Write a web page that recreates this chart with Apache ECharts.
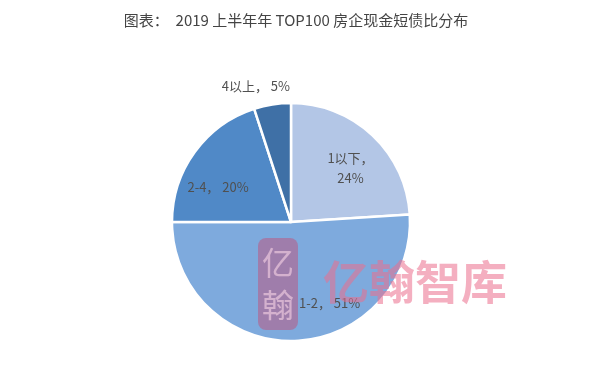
<!DOCTYPE html>
<html>
<head>
<meta charset="utf-8">
<script src="https://cdn.jsdelivr.net/npm/echarts@6/dist/echarts.min.js"></script>
<style>
  * { margin: 0; padding: 0; }
  body { background: #fff; }
</style>
</head>
<body>
<div id="main" style="width: 592px; height: 376px;"></div>
<script type="text/javascript">
  // 数据
  var categories = ['1以下', '1-2', '2-4', '4以上'];
  var shares = [24, 51, 20, 5];
  var sliceColors = ['#b3c6e6', '#7eaadd', '#5089c7', '#3f70a6'];
  var labelOffsets = [[2, 7], [36, -3], [-5, 14], [-22, -53]];
  var labelText = ['1以下，\n24%', '1-2， 51%', '2-4， 20%', '4以上， 5%'];

  var myChart = echarts.init(document.getElementById('main'));

  var pieData = categories.map(function (name, i) {
    return { name: name, value: shares[i], itemStyle: { color: sliceColors[i] } };
  });
  var labelData = categories.map(function (name, i) {
    return {
      name: name,
      value: shares[i],
      label: { offset: labelOffsets[i], formatter: labelText[i] }
    };
  });

  var option = {
    backgroundColor: '#fff',
    animation: false,
    title: {
      text: '图表：  2019 上半年年 TOP100 房企现金短债比分布',
      left: 'center',
      top: 8,
      textStyle: {
        fontFamily: 'Noto Sans CJK SC',
        fontWeight: 'normal',
        fontSize: 15,
        color: '#444'
      }
    },
    series: [
      {
        type: 'pie',
        center: [291, 222],
        radius: [0, 119],
        startAngle: 90,
        clockwise: true,
        silent: true,
        label: { show: false },
        labelLine: { show: false },
        itemStyle: { borderColor: '#fff', borderWidth: 2.5 },
        data: pieData
      },
      {
        // 只用于放标签
        type: 'pie',
        center: [291, 222],
        radius: [43, 119],
        startAngle: 90,
        clockwise: true,
        silent: true,
        itemStyle: { color: 'rgba(0,0,0,0)' },
        labelLine: { show: false },
        label: {
          show: true,
          position: 'inside',
          fontFamily: 'Noto Sans CJK SC',
          fontSize: 13,
          lineHeight: 20,
          color: '#505050'
        },
        data: labelData
      }
    ],
    graphic: [
      {
        type: 'rect',
        shape: { x: 258, y: 238, width: 40, height: 92, r: 8 },
        style: { fill: 'rgba(200,70,110,0.45)' },
        z: 100
      },
      {
        type: 'text',
        x: 278,
        y: 284,
        style: {
          text: '亿\n翰',
          fontFamily: 'Noto Sans CJK SC',
          fontSize: 32,
          lineHeight: 42,
          fill: 'rgba(255,220,235,0.55)',
          align: 'center',
          verticalAlign: 'middle'
        },
        z: 101
      },
      {
        type: 'text',
        x: 415,
        y: 282,
        style: {
          text: '亿翰智库',
          fontFamily: 'Noto Sans CJK SC',
          fontWeight: 'bold',
          fontSize: 46,
          fill: 'rgba(235,110,140,0.55)',
          align: 'center',
          verticalAlign: 'middle'
        },
        z: 100
      }
    ]
  };

  myChart.setOption(option);
</script>
</body>
</html>
